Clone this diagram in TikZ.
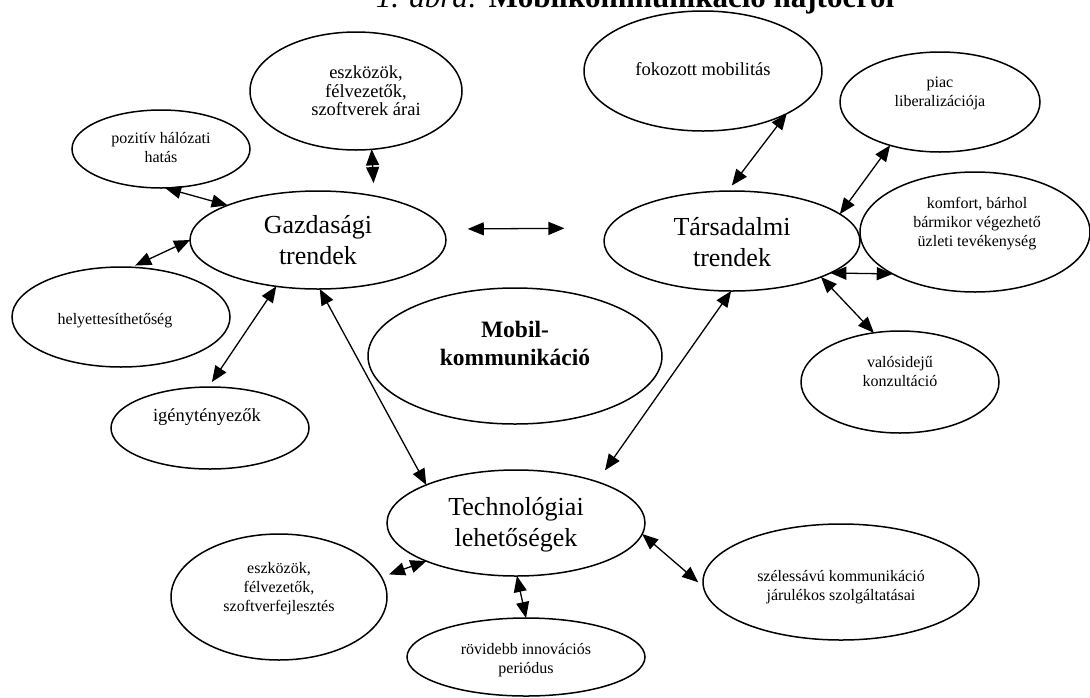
\documentclass[tikz,border=0pt]{standalone}
\usepackage{fontspec}
\setmainfont{Liberation Serif}
\usetikzlibrary{shapes.geometric,arrows.meta}
\tikzset{
  ell/.style 2 args={draw, ellipse, line width=1.5pt, inner sep=0pt, outer sep=0pt,
    minimum width=#1pt, minimum height=#2pt},
  big/.style={align=center, font=\fontsize{26}{31}\selectfont},
  med/.style={align=center, font=\fontsize{18.5}{18.5}\selectfont},
  sml/.style={align=center, font=\fontsize{16}{19}\selectfont},
  mobtxt/.style={align=center, font=\fontsize{23.5}{28}\selectfont\bfseries},
  arr/.style={line width=1.3pt, {Triangle[length=16pt,width=13pt]}-{Triangle[length=16pt,width=13pt]}},
}
\begin{document}
\begin{tikzpicture}[x=1pt,y=-1pt]
\fill[white] (0,0) rectangle (1090,697);
\useasboundingbox (0,0) rectangle (1090,697);
\clip (0,0) rectangle (1090,697);

% title (cut at the top of the picture, as in the reference)
\node[anchor=base, inner sep=0pt] (title) at (635,7)
  {\fontsize{31}{37}\selectfont\textit{1. ábra:} \textbf{Mobilkommunikáció hajtóerői}};

% main ellipses
\node[ell={256}{98}] (gaz) at (318,240) {};
\node[big] (gaz-t) at (318,240) {Gazdasági\\trendek};
\node[ell={256}{100}] (tar) at (732,241) {};
\node[big] (tar-t) at (732,242) {Társadalmi\\trendek};
\node[ell={258}{106}] (tech) at (516,523) {};
\node[big] (tech-t) at (516,525) {Technológiai\\lehetőségek};
\node[ell={294}{136}] (mob) at (515,356) {};
\node[mobtxt] (mob-t) at (515,343) {Mobil-\\kommunikáció};

% satellites
\node[ell={212}{118}] (arai) at (356,91) {};
\node[med] (arai-t) at (366,91) {eszközök,\\félvezetők,\\szoftverek árai};
\node[ell={178}{78}] (poz) at (161,149) {};
\node[sml] (poz-t) at (161,148) {pozitív hálózati\\hatás};
\node[ell={218}{100}] (hely) at (121,317) {};
\node[sml] (hely-t) at (115,321) {helyettesíthetőség};
\node[ell={198}{82}] (igeny) at (210,428) {};
\node[med] (igeny-t) at (207,417) {igénytényezők};
\node[ell={238}{120}] (fok) at (703,71) {};
\node[med] (fok-t) at (703,69) {fokozott mobilitás};
\node[ell={200}{100}] (piac) at (940,102) {};
\node[sml] (piac-t) at (940,93) {piac\\liberalizációja};
\node[ell={230}{120}] (komf) at (975,232) {};
\node[sml] (komf-t) at (977,224) {komfort, bárhol\\bármikor végezhető\\üzleti tevékenység};
\node[ell={198}{102}] (valo) at (900,382) {};
\node[sml] (valo-t) at (900,372) {valósidejű\\konzultáció};
\node[ell={216}{126}] (eszf) at (279,597) {};
\node[sml] (eszf-t) at (279,589) {eszközök,\\félvezetők,\\szoftverfejlesztés};
\node[ell={238}{78}] (rov) at (526,657) {};
\node[sml] (rov-t) at (526,660) {rövidebb innovációs\\periódus};
\node[ell={276}{116}] (szel) at (841,582) {};
\node[sml] (szel-t) at (841,587) {szélessávú kommunikáció\\járulékos szolgáltatásai};

% connectors
\draw[arr] (poz.-84) -- (gaz.159);
\draw[arr, shorten <=4pt] (hely.78) -- (gaz.180);
\draw[arr, shorten >=13pt] (arai.-75) -- (gaz.38);
\draw[arr, shorten <=6pt] (igeny.92) -- (gaz.228);
\draw[arr] (gaz.-88) -- (tech.157);
\draw[arr, shorten <=25pt, shorten >=44pt] (gaz.5) -- (tar.174.5);
\draw[arr, shorten >=14pt] (tar.-91) -- (tech.27);
\draw[arr, shorten >=7pt] (fok.-27) -- (tar.95);
\draw[arr] (piac.221) -- (tar.14);
\draw[arr] (tar.-18) -- (komf.207);
\draw[arr] (tar.-22) -- (valo.118);
\draw[arr, shorten >=8pt] (tech.203) -- (eszf.11);
\draw[arr] (tech.-89) -- (rov.90);
\draw[arr, shorten >=7pt] (tech.-5) -- (szel.182);
\end{tikzpicture}
\end{document}
